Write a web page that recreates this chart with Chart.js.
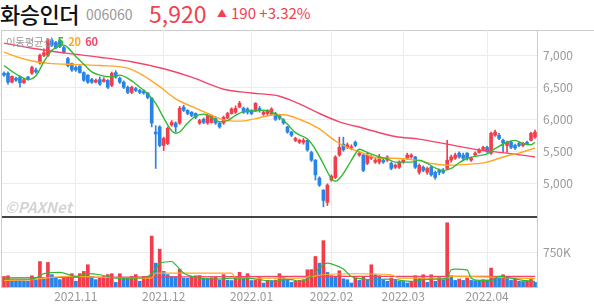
<!DOCTYPE html>
<html lang="ko">
<head>
<meta charset="utf-8">
<script src="https://cdn.jsdelivr.net/npm/chart.js@4.4.1/dist/chart.umd.min.js"></script>
<style>
  body { margin: 0; width: 594px; height: 304px; background: #fff; overflow: hidden; position: relative;
         font-family: "Noto Sans CJK KR", "Noto Sans", sans-serif; }
  .abs { position: absolute; white-space: nowrap; }
  #name { left: 0; top: 0; font-size: 22px; line-height: 26px; font-weight: 500; color: #111; letter-spacing: -0.5px; }
  #code { left: 86px; top: 4px; font-size: 14px; line-height: 20px; color: #999; }
  #price-now { left: 149px; top: 0; font-size: 23px; line-height: 26px; color: #f0434f; }
  #change { left: 217px; top: 3px; font-size: 15px; line-height: 20px; color: #f0434f; }
  #change .tri { font-size: 10px; vertical-align: 2px; margin-right: 4px; }
  #frame { left: 1px; top: 30px; width: 593px; height: 257px; border-top: 1px solid #ccc; border-left: 1px solid #ccc; }
  #sep { left: 2px; top: 216px; width: 535px; height: 2px; background: #444; }
  canvas { position: absolute; left: 0; }
  #price { top: 30px; }
  #volume { top: 217px; }
  #ma-legend { left: 6px; top: 34px; font-size: 10.5px; line-height: 14px; color: #999; letter-spacing: -0.3px; }
  #ma-legend b { font-weight: 600; margin-left: 2px; font-size: 11px; }
  #mark { left: 5px; top: 196px; font-size: 15px; font-weight: bold; font-style: italic; color: #d4d4d4; }
</style>
</head>
<body>
<div class="abs" id="name">화승인더</div>
<div class="abs" id="code">006060</div>
<div class="abs" id="price-now">5,920</div>
<div class="abs" id="change"><span class="tri">▲</span>190 +3.32%</div>
<div class="abs" id="frame"></div>
<canvas id="price" width="594" height="187"></canvas>
<canvas id="volume" width="594" height="87"></canvas>
<div class="abs" id="sep"></div>
<div class="abs" id="ma-legend">이동평균선 <b style="color:#33b833">5</b> <b style="color:#ffa726">20</b> <b style="color:#f2456b">60</b></div>
<div class="abs" id="mark">©PAXNet</div>
<script>
// daily candles, oldest first
var opens = [6720, 6720, 6580, 6640, 6660, 6570, 6660, 6720, 6770, 6880,
    7000, 7000, 7230, 7200, 7230, 7120, 6950, 6870, 6810, 6830,
    6730, 6690, 6620, 6580, 6620, 6590, 6610, 6530, 6730, 6640,
    6580, 6500, 6420, 6480, 6450, 6440, 6410, 6330, 5800, 5880,
    5590, 5620, 5910, 5940, 5940, 6190, 6140, 6110, 6090, 5940,
    6000, 5940, 5950, 6010, 5940, 5940, 6020, 6090, 6110, 6190,
    6170, 6160, 6140, 6140, 6170, 6080, 6090, 6080, 6090, 6060,
    5990, 5880, 5800, 5670, 5640, 5640, 5670, 5480, 5360, 5080,
    4890, 4700, 5050, 5090, 5440, 5610, 5560, 5550, 5640, 5440,
    5440, 5310, 5390, 5330, 5330, 5360, 5360, 5310, 5250, 5250,
    5330, 5390, 5410, 5410, 5170, 5250, 5170, 5250, 5170, 5200,
    5200, 5230, 5360, 5390, 5470, 5440, 5470, 5360, 5440, 5480,
    5530, 5560, 5470, 5750, 5750, 5670, 5590, 5640, 5590, 5620,
    5590, 5640, 5670, 5720];
var closes = [6690, 6580, 6670, 6610, 6570, 6620, 6630, 6810, 6740, 7000,
    7040, 7230, 7160, 7120, 7140, 7050, 6840, 6770, 6770, 6730,
    6610, 6580, 6580, 6610, 6550, 6620, 6500, 6720, 6660, 6580,
    6500, 6420, 6500, 6450, 6420, 6410, 6340, 5940, 5770, 5590,
    5700, 5860, 5950, 5880, 6170, 6140, 6090, 6060, 6030, 5980,
    5950, 6060, 6060, 5940, 5880, 6030, 6090, 6160, 6170, 6250,
    6110, 6110, 6090, 6250, 6140, 6110, 6140, 6160, 6000, 6020,
    5940, 5800, 5750, 5700, 5670, 5670, 5520, 5360, 5130, 4970,
    4730, 4970, 5110, 5410, 5560, 5520, 5600, 5570, 5590, 5470,
    5200, 5440, 5420, 5360, 5410, 5330, 5410, 5230, 5280, 5330,
    5360, 5440, 5440, 5250, 5280, 5200, 5230, 5130, 5090, 5170,
    5170, 5360, 5410, 5440, 5410, 5390, 5390, 5390, 5470, 5520,
    5560, 5500, 5780, 5800, 5700, 5630, 5640, 5560, 5550, 5590,
    5620, 5620, 5780, 5800];
var highs = [6740, 6740, 6680, 6660, 6680, 6640, 6670, 6830, 6800, 7020,
    7100, 7260, 7260, 7220, 7250, 7140, 6970, 6880, 6830, 6840,
    6740, 6700, 6640, 6630, 6660, 6650, 6620, 6740, 6760, 6660,
    6600, 6520, 6520, 6500, 6470, 6460, 6420, 6340, 5900, 5900,
    5720, 5880, 5980, 5960, 6200, 6220, 6150, 6120, 6100, 6000,
    6020, 6080, 6070, 6040, 5950, 6050, 6110, 6180, 6210, 6280,
    6190, 6180, 6150, 6260, 6200, 6140, 6150, 6180, 6110, 6080,
    6010, 5890, 5810, 5720, 5690, 5700, 5680, 5500, 5370, 5100,
    4900, 4990, 5130, 5430, 5720, 5720, 5630, 5600, 5660, 5500,
    5450, 5470, 5440, 5390, 5450, 5380, 5430, 5330, 5300, 5350,
    5380, 5470, 5460, 5420, 5300, 5270, 5250, 5270, 5190, 5220,
    5230, 5670, 5440, 5470, 5490, 5470, 5480, 5410, 5490, 5540,
    5580, 5580, 5800, 5830, 5780, 5690, 5660, 5660, 5610, 5640,
    5640, 5660, 5800, 5830];
var lows = [6670, 6550, 6570, 6590, 6500, 6560, 6610, 6700, 6720, 6860,
    6980, 6980, 7140, 7100, 7120, 7030, 6820, 6750, 6750, 6720,
    6590, 6560, 6560, 6570, 6530, 6580, 6480, 6510, 6640, 6560,
    6480, 6400, 6400, 6430, 6400, 6390, 6320, 5880, 5230, 5570,
    5510, 5600, 5890, 5800, 5920, 6120, 6070, 6040, 6010, 5920,
    5930, 5920, 5940, 5920, 5860, 5920, 6010, 6080, 6090, 6180,
    6090, 6080, 6070, 6120, 6110, 6060, 6060, 6060, 5980, 5990,
    5920, 5780, 5730, 5650, 5620, 5610, 5500, 5340, 5050, 4950,
    4630, 4650, 5030, 5070, 5420, 5500, 5540, 5520, 5570, 5420,
    5180, 5290, 5370, 5310, 5300, 5310, 5340, 5210, 5230, 5230,
    5310, 5370, 5390, 5230, 5140, 5180, 5140, 5110, 5060, 5130,
    5150, 5210, 5330, 5370, 5390, 5360, 5360, 5340, 5420, 5470,
    5510, 5480, 5450, 5730, 5680, 5480, 5480, 5540, 5530, 5570,
    5570, 5600, 5660, 5700];
var volumes = [230000, 245000, 150000, 145000, 140000, 135000, 130000, 245000, 160000, 555000,
    175000, 535000, 270000, 195000, 160000, 195000, 230000, 290000, 125000, 290000,
    340000, 485000, 230000, 160000, 195000, 230000, 270000, 290000, 100000, 290000,
    195000, 190000, 230000, 270000, 125000, 230000, 235000, 1110000, 520000, 825000,
    340000, 270000, 230000, 225000, 390000, 195000, 190000, 230000, 245000, 250000,
    195000, 190000, 200000, 210000, 145000, 270000, 145000, 140000, 195000, 320000,
    195000, 290000, 140000, 150000, 230000, 85000, 145000, 140000, 150000, 290000,
    230000, 160000, 100000, 125000, 145000, 160000, 375000, 380000, 665000, 520000,
    1010000, 318000, 245000, 210000, 354000, 180000, 159000, 87000, 195000, 144000,
    231000, 159000, 484000, 267000, 245000, 159000, 123000, 195000, 144000, 123000,
    120000, 87000, 123000, 245000, 195000, 267000, 101000, 267000, 123000, 231000,
    159000, 1400000, 245000, 144000, 173000, 144000, 195000, 144000, 140000, 135000,
    159000, 150000, 412000, 231000, 225000, 267000, 195000, 144000, 195000, 123000,
    120000, 125000, 195000, 101000];

// moving average lines as [candle index, value]
var ma5Points = [[0, 6840], [2, 6750], [4, 6670], [6, 6620], [8, 6680], [10, 6900], [12, 7080], [14, 7150],
    [15, 7160], [16, 7120], [18, 6980], [20, 6860], [22, 6740], [24, 6690], [27, 6660], [29, 6690],
    [32, 6600], [34, 6500], [36, 6400], [38, 6250], [40, 6020], [42, 5820], [43, 5780], [44, 5800],
    [46, 5940], [48, 6050], [50, 6080], [52, 6030], [54, 5960], [56, 5980], [58, 6060], [60, 6120],
    [63, 6130], [65, 6140], [67, 6110], [69, 6040], [71, 5920], [73, 5790], [76, 5690], [78, 5530],
    [80, 5300], [82, 5070], [83, 5030], [84, 5070], [86, 5250], [88, 5460], [89, 5530], [91, 5480],
    [94, 5410], [96, 5380], [98, 5330], [102, 5330], [104, 5360], [106, 5310], [108, 5240], [110, 5200],
    [112, 5230], [114, 5320], [116, 5390], [118, 5420], [121, 5460], [123, 5540], [126, 5640], [128, 5670],
    [130, 5620], [132, 5600], [133, 5640]];
var ma20Points = [[0, 7050], [4, 6960], [8, 6900], [12, 6870], [16, 6860], [24, 6840], [31, 6800], [35, 6680],
    [39, 6510], [43, 6320], [47, 6200], [51, 6090], [55, 5990], [59, 5970], [63, 6010], [68, 6070],
    [70, 6070], [74, 6000], [79, 5850], [83, 5660], [86, 5560], [90, 5470], [94, 5390], [98, 5390],
    [103, 5360], [107, 5310], [111, 5280], [115, 5290], [121, 5330], [125, 5410], [129, 5470], [133, 5550]];
var ma60Points = [[0, 7190], [7, 7110], [16, 7030], [24, 6970], [32, 6900], [40, 6790], [47, 6660], [55, 6470],
    [62, 6410], [69, 6360], [74, 6240], [79, 6090], [84, 5960], [90, 5860], [98, 5730], [104, 5690],
    [111, 5610], [119, 5520], [126, 5470], [133, 5410]];
var volMa5Points = [[0, 173000], [7, 173000], [10, 290000], [14, 318000], [18, 230000], [21, 290000], [24, 267000],
    [28, 195000], [33, 195000], [36, 230000], [38, 390000], [39, 520000], [42, 556000], [43, 484000], [45, 303000],
    [49, 195000], [53, 173000], [57, 195000], [61, 195000], [64, 159000], [68, 123000], [70, 159000], [72, 159000],
    [74, 123000], [77, 230000], [79, 412000], [81, 520000], [82, 505000], [85, 390000], [87, 230000], [90, 173000],
    [92, 159000], [96, 173000], [98, 159000], [102, 123000], [105, 159000], [108, 173000], [111, 195000],
    [112, 375000], [113, 390000], [116, 375000], [117, 195000], [119, 144000], [122, 144000], [124, 230000],
    [127, 195000], [130, 144000], [133, 123000]];
var volMa20Points = [[0, 144000], [7, 159000], [10, 195000], [16, 230000], [24, 216000], [33, 195000], [37, 195000],
    [38, 303000], [49, 303000], [57, 303000], [58, 195000], [74, 195000], [77, 230000], [80, 267000], [88, 289000],
    [97, 267000], [99, 195000], [111, 195000], [112, 230000], [122, 216000], [133, 180000]];
var volMa60Points = [[0, 200000], [40, 220000], [70, 230000], [133, 232000]];

// x axis: first candle of each month
var monthStarts = [18, 40, 62, 82, 100, 121];
var monthLabels = ['2021.11', '2021.12', '2022.01', '2022.02', '2022.03', '2022.04'];
var priceTicks = [5000, 5500, 6000, 6500, 7000];
var volumeTicks = [750000];

var RED = '#f23d4c';
var BLUE = '#2884e6';
var GREEN = '#33b833';
var ORANGE = '#ffa726';
var PINK = '#f2456b';
var GRID = '#ececec';

Chart.defaults.font.family = '"Noto Sans CJK KR", "Noto Sans", sans-serif';

var idx = closes.map(function (c, i) { return i; });

function sparse(points) {
    var arr = idx.map(function () { return null; });
    points.forEach(function (p) { arr[p[0]] = p[1]; });
    return arr;
}

function maLine(points, color, width) {
    return {
        type: 'line', data: sparse(points), borderColor: color, borderWidth: width,
        pointRadius: 0, spanGaps: true, cubicInterpolationMode: 'monotone', order: 0
    };
}

var candleColors = idx.map(function (i) { return closes[i] >= opens[i] ? RED : BLUE; });
var volumeColors = idx.map(function (i) { return i === 0 || volumes[i] > volumes[i - 1] ? RED : BLUE; });

function monthGrid(ctx) {
    return ctx.tick && monthStarts.indexOf(ctx.tick.value) >= 0 ? GRID : 'rgba(0,0,0,0)';
}

// right-hand value axis: label gap comes from an invisible tick mark, not from
// ticks.padding, which would also pad the plot area top and bottom
function rightAxis(min, max, values, format) {
    return {
        position: 'right',
        min: min,
        max: max,
        afterBuildTicks: function (axis) { axis.ticks = values.map(function (v) { return { value: v }; }); },
        afterFit: function (axis) { axis.width = 57; },
        grid: { color: GRID, drawTicks: true, tickLength: 6, tickColor: 'rgba(0,0,0,0)' },
        border: { color: '#ccc' },
        ticks: { color: '#999', font: { size: 12, lineHeight: 0.01 }, padding: 0, callback: format }
    };
}

// Price chart
new Chart(document.getElementById('price'), {
    type: 'bar',
    data: {
        labels: idx,
        datasets: [
            maLine(ma5Points, GREEN, 1.4),
            maLine(ma20Points, ORANGE, 1.4),
            maLine(ma60Points, PINK, 1.4),
            {
                data: idx.map(function (i) { return [opens[i], closes[i]]; }),
                backgroundColor: candleColors, barThickness: 3, minBarLength: 1, grouped: false, order: 1
            },
            {
                data: idx.map(function (i) { return [lows[i], highs[i]]; }),
                backgroundColor: candleColors, barThickness: 1, grouped: false, order: 2
            }
        ]
    },
    options: {
        responsive: false,
        animation: false,
        devicePixelRatio: 1,
        layout: { padding: { left: 2, right: 0, top: 0, bottom: 0 } },
        plugins: { legend: { display: false }, tooltip: { enabled: false } },
        scales: {
            x: {
                offset: true,
                grid: { offset: false, drawTicks: false, color: monthGrid },
                ticks: { display: false, autoSkip: false },
                border: { display: false },
                afterFit: function (axis) { axis.height = 0; }
            },
            y: rightAxis(4472, 7395, priceTicks, function (v) { return v.toLocaleString('en-US'); })
        }
    }
});

// Volume chart
new Chart(document.getElementById('volume'), {
    type: 'bar',
    data: {
        labels: idx,
        datasets: [
            maLine(volMa5Points, GREEN, 1.2),
            maLine(volMa20Points, ORANGE, 1.2),
            maLine(volMa60Points, PINK, 1.2),
            { data: volumes, backgroundColor: volumeColors, barThickness: 3, order: 1 }
        ]
    },
    options: {
        responsive: false,
        animation: false,
        devicePixelRatio: 1,
        layout: { padding: { left: 2, right: 0, top: 0, bottom: 0 } },
        plugins: { legend: { display: false }, tooltip: { enabled: false } },
        scales: {
            x: {
                offset: true,
                grid: { offset: false, drawTicks: false, color: monthGrid },
                border: { color: '#ccc' },
                ticks: {
                    autoSkip: false, maxRotation: 0, padding: 2, color: '#999', font: { size: 12 },
                    callback: function (v, i) {
                        var k = monthStarts.indexOf(i);
                        return k >= 0 ? monthLabels[k] : '';
                    }
                },
                afterFit: function (axis) { axis.height = 17; }
            },
            y: rightAxis(0, 1524000, volumeTicks, function (v) { return (v / 1000) + 'K'; })
        }
    }
});
</script>
</body>
</html>
